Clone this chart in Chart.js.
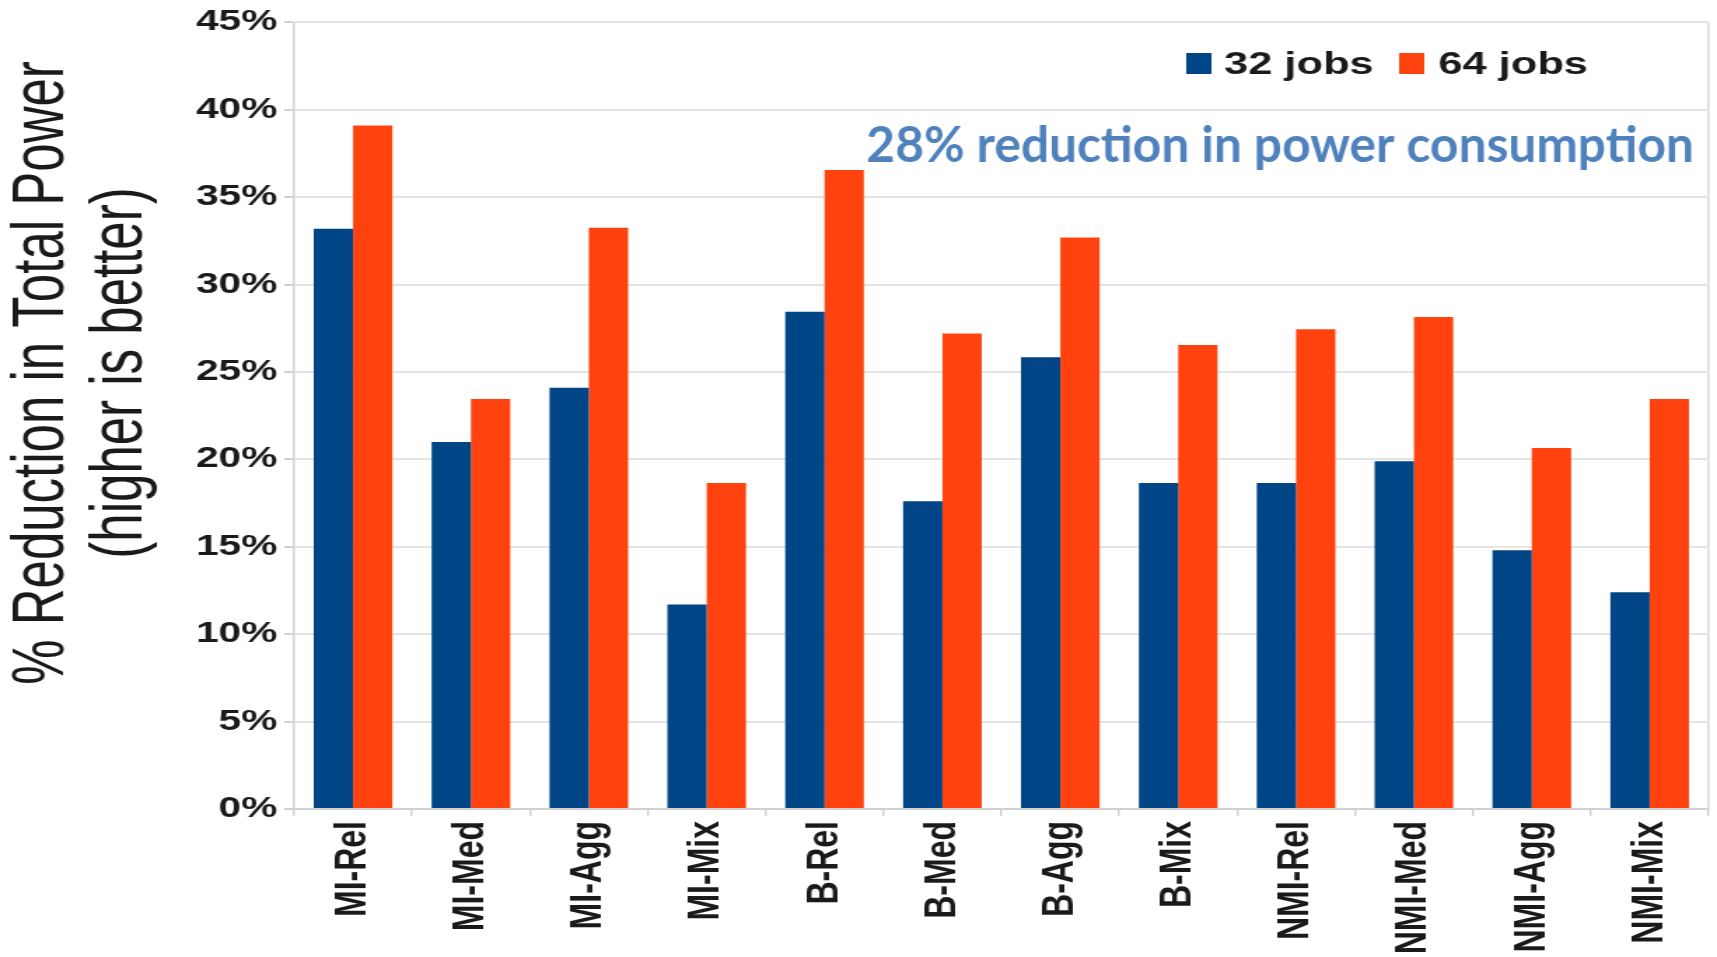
<!DOCTYPE html>
<html>
<head>
<meta charset="utf-8">
<script src="https://cdn.jsdelivr.net/npm/chart.js@4.4.1/dist/chart.umd.min.js"></script>
<style>
  html, body { margin: 0; padding: 0; background: #fff; overflow: hidden; }
  /* the chart is laid out narrow and widened as a whole, text included */
  #wrap { width: 1226px; height: 957px; transform: scaleX(1.4005); transform-origin: 0 0; }
</style>
</head>
<body>
<div id="wrap"><canvas id="chartPower" width="1226" height="957"></canvas></div>
<script>
const SX = 1717 / 1226;

const workloads = ["MI-Rel", "MI-Med", "MI-Agg", "MI-Mix", "B-Rel", "B-Med", "B-Agg", "B-Mix", "NMI-Rel", "NMI-Med", "NMI-Agg", "NMI-Mix"];
const jobs32 = [33.2, 21.0, 24.1, 11.7, 28.45, 17.6, 25.85, 18.65, 18.65, 19.9, 14.8, 12.4];
const jobs64 = [39.1, 23.45, 33.25, 18.65, 36.55, 27.2, 32.7, 26.55, 27.45, 28.15, 20.65, 23.45];
const seriesNames = ["32 jobs", "64 jobs"];
const seriesColors = ["#004586", "#ff420e"];
const yTitle = ["% Reduction in Total Power", "(higher is better)"];
const note = "28% reduction in power consumption";

Chart.defaults.font.family = "'Liberation Sans', Arial, sans-serif";
Chart.defaults.color = "#1a1a1a";

// legend boxes inside the plot, top right
const legendInside = {
  id: "legendInside",
  afterDraw(chart) {
    const ctx = chart.ctx;
    const boxX = [847, 999];
    const textX = [874, 1027];
    ctx.save();
    ctx.font = "bold 31px 'Liberation Sans', Arial, sans-serif";
    ctx.textBaseline = "alphabetic";
    chart.data.datasets.forEach((ds, i) => {
      ctx.fillStyle = ds.backgroundColor;
      ctx.fillRect(boxX[i], 53, 18, 21);
      ctx.fillStyle = "#1a1a1a";
      ctx.fillText(ds.label, textX[i], 74);
    });
    ctx.restore();
  }
};

// two-line rotated y title
const yAxisTitle = {
  id: "yAxisTitle",
  afterDraw(chart) {
    const ctx = chart.ctx;
    const baseX = [45, 101];
    ctx.save();
    ctx.fillStyle = "#1a1a1a";
    ctx.font = "51px 'Liberation Sans', Arial, sans-serif";
    ctx.textAlign = "center";
    ctx.textBaseline = "alphabetic";
    yTitle.forEach((line, i) => {
      ctx.save();
      ctx.translate(baseX[i], 373);
      ctx.rotate(-Math.PI / 2);
      ctx.fillText(line, 0, 0);
      ctx.restore();
    });
    ctx.restore();
  }
};

// blue note over the plot, drawn without the horizontal widening
const noteText = {
  id: "noteText",
  afterDraw(chart) {
    const ctx = chart.ctx;
    ctx.save();
    ctx.scale(1 / SX, 1);
    let size = 47;
    ctx.font = "bold " + size + "px Lato, 'Open Sans', sans-serif";
    const w = ctx.measureText(note).width;
    size = size * 828 / w;
    ctx.font = "bold " + size.toFixed(1) + "px Lato, 'Open Sans', sans-serif";
    ctx.fillStyle = "#4f81bd";
    ctx.textAlign = "right";
    ctx.textBaseline = "alphabetic";
    ctx.fillText(note, 1694, 162);
    ctx.restore();
  }
};

new Chart(document.getElementById("chartPower"), {
  type: "bar",
  data: {
    labels: workloads,
    datasets: [
      {
        label: seriesNames[0],
        data: jobs32,
        backgroundColor: seriesColors[0],
        barPercentage: 1,
        categoryPercentage: 0.667,
      },
      {
        label: seriesNames[1],
        data: jobs64,
        backgroundColor: seriesColors[1],
        barPercentage: 1,
        categoryPercentage: 0.667,
      },
    ],
  },
  options: {
    responsive: false,
    animation: false,
    devicePixelRatio: 1,
    layout: { padding: { top: 21, right: 6, left: 0, bottom: 0 } },
    plugins: {
      legend: { display: false },
      tooltip: { enabled: false },
    },
    scales: {
      x: {
        grid: {
          offset: true,
          color: (c) => (c.type === "scale" ? "#d8d8d8" : "rgba(0,0,0,0)"),
          lineWidth: 1.5,
          tickColor: "#c8c8c8",
          tickWidth: 1.2,
          tickLength: 7,
        },
        border: { color: "#d0d0d0", width: 2 },
        ticks: {
          autoSkip: false,
          minRotation: 90,
          maxRotation: 90,
          padding: 5,
          color: "#1a1a1a",
          font: { size: 32, weight: "bold" },
        },
        afterFit(scale) { scale.height = 148; },
      },
      y: {
        min: 0,
        max: 45,
        ticks: {
          stepSize: 5,
          padding: 5,
          color: "#1a1a1a",
          font: { size: 29, weight: "bold" },
          callback: (v) => v + "%",
        },
        grid: {
          color: "#e4e4e4",
          lineWidth: 2,
          tickColor: "#d0d0d0",
          tickLength: 7,
        },
        border: { color: "#d4d4d4", width: 1.5 },
        afterFit(scale) { scale.width = 210; },
      },
    },
  },
  plugins: [legendInside, yAxisTitle, noteText],
});
</script>
</body>
</html>
